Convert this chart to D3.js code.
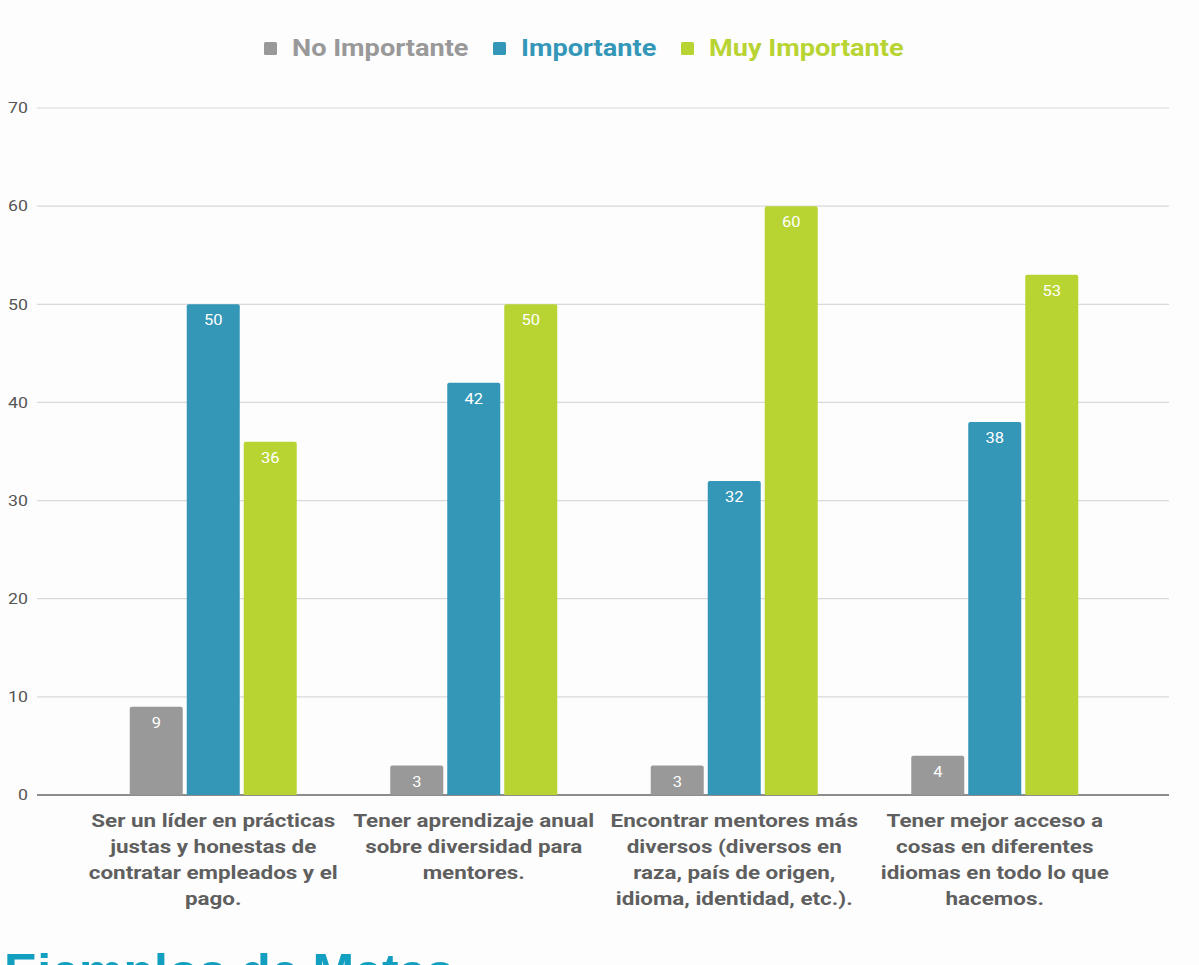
<!DOCTYPE html>
<html>
<head>
<meta charset="utf-8">
<script src="https://cdn.jsdelivr.net/npm/d3@7"></script>
<style>
  body { margin: 0; background: #fdfdfd; }
  svg { display: block; }
</style>
</head>
<body>
<div id="chart"></div>
<script>
// data
var categories = [
  ["Ser un líder en prácticas", "justas y honestas de", "contratar empleados y el", "pago."],
  ["Tener aprendizaje anual", "sobre diversidad para", "mentores."],
  ["Encontrar mentores más", "diversos (diversos en", "raza, país de origen,", "idioma, identidad, etc.)."],
  ["Tener mejor acceso a", "cosas en diferentes", "idiomas en todo lo que", "hacemos."]
];
var seriesNames = ["No Importante", "Importante", "Muy Importante"];
var noImportante = [9, 3, 3, 4];
var importante = [50, 42, 32, 38];
var muyImportante = [36, 50, 60, 53];
var yTicks = [0, 10, 20, 30, 40, 50, 60, 70];

var colors = ["#999999", "#3497b8", "#b8d433"];
var series = [noImportante, importante, muyImportante];

var width = 1199, height = 965;
// the original text is a bit wider than its height suggests
var stretch = 1.18;

var svg = d3.select("#chart")
  .append("svg")
    .attr("width", width)
    .attr("height", height);

// scales
var y = d3.scaleLinear()
  .domain([0, 70])
  .range([795, 108]);

var x = d3.scaleBand()
  .domain(d3.range(categories.length))
  .range([83, 1125]);

var xInner = d3.scaleBand()
  .domain(d3.range(series.length))
  .range([0, 167])
  .paddingInner(0.07);

// grid lines
svg.append("g")
  .selectAll("line")
  .data(yTicks)
  .enter()
  .append("line")
    .attr("x1", 37)
    .attr("x2", 1169)
    .attr("y1", function(d) { return y(d) })
    .attr("y2", function(d) { return y(d) })
    .attr("stroke", function(d) { return d === 0 ? "#666" : "#d9d9d9" })
    .attr("stroke-width", function(d) { return d === 0 ? 1.5 : 1.2 });

// y axis labels
var yAxis = svg.append("g")
  .attr("transform", "translate(28,0) scale(" + stretch + ",1)")
  .call(d3.axisLeft(y).tickValues(yTicks).tickSize(0).tickPadding(0));
yAxis.select(".domain").remove();
yAxis.selectAll("text")
  .attr("fill", "#555")
  .style("font-family", "Roboto")
  .style("font-size", "15px");

// bars
var groups = svg.append("g")
  .selectAll("g")
  .data(categories)
  .enter()
  .append("g")
    .attr("transform", function(d, i) {
      return "translate(" + (x(i) + x.bandwidth() / 2 - 83.5) + ",0)";
    });

function barPath(x0, w, y0, y1, r) {
  return "M" + x0 + "," + y1 +
    "V" + (y0 + r) +
    "Q" + x0 + "," + y0 + " " + (x0 + r) + "," + y0 +
    "H" + (x0 + w - r) +
    "Q" + (x0 + w) + "," + y0 + " " + (x0 + w) + "," + (y0 + r) +
    "V" + y1 + "Z";
}

groups.each(function(cat, ci) {
  var g = d3.select(this);
  series.forEach(function(vals, si) {
    var v = vals[ci];
    g.append("path")
      .attr("d", barPath(xInner(si), xInner.bandwidth(), y(v), y(0), 2))
      .attr("fill", colors[si]);
    g.append("text")
      .attr("transform", "translate(" + (xInner(si) + xInner.bandwidth() / 2) + "," + (y(v) + 21) + ") scale(1.1,1)")
      .attr("text-anchor", "middle")
      .attr("fill", "#fff")
      .style("font-family", "Roboto")
      .style("font-size", "15px")
      .text(v);
  });

  // category label
  var t = g.append("text")
    .attr("transform", "translate(83.5,0) scale(" + stretch + ",1)")
    .attr("text-anchor", "middle")
    .attr("fill", "#5f5f5f")
    .style("font-family", "Roboto")
    .style("font-weight", "bold")
    .style("font-size", "19px");
  cat.forEach(function(line, li) {
    t.append("tspan")
      .attr("x", 0)
      .attr("y", 827 + li * 26)
      .text(line);
  });
});

// legend
var legendX = [264, 493, 681];
var legend = svg.append("g");
seriesNames.forEach(function(name, i) {
  legend.append("rect")
    .attr("x", legendX[i])
    .attr("y", 42)
    .attr("width", 13)
    .attr("height", 13)
    .attr("rx", 1.5)
    .attr("fill", colors[i]);
  legend.append("text")
    .attr("transform", "translate(" + (legendX[i] + 28) + ",56) scale(" + stretch + ",1)")
    .attr("fill", colors[i])
    .style("font-family", "Roboto")
    .style("font-weight", "bold")
    .style("font-size", "23px")
    .text(name);
});

// heading below the chart, cut off by the page edge
svg.append("text")
  .attr("x", 4)
  .attr("y", 989)
  .attr("fill", "#139fc0")
  .style("font-family", "Liberation Sans")
  .style("font-weight", "bold")
  .style("font-size", "50px")
  .text("Ejemplos de Metas");
</script>
</body>
</html>
